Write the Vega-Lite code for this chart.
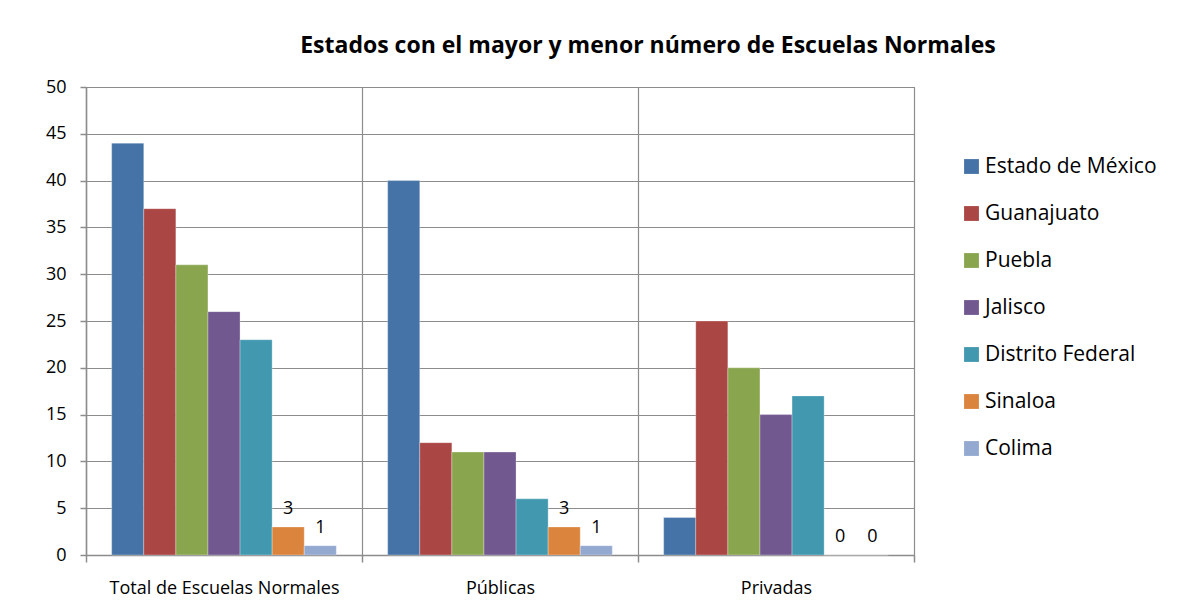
{
  "$schema": "https://vega.github.io/schema/vega-lite/v6.json",
  "width": 828,
  "height": 468,
  "autosize": {"type": "none"},
  "padding": {"left": 86, "top": 87, "right": 264, "bottom": 52},
  "background": "white",
  "title": {
    "text": "Estados con el mayor y menor número de Escuelas Normales",
    "font": "Open Sans",
    "fontSize": 23,
    "fontWeight": "bold",
    "color": "black",
    "anchor": "middle",
    "frame": "group",
    "dx": 148,
    "offset": 20
  },
  "config": {
    "view": {"stroke": "#8c8c8c", "strokeWidth": 1},
    "axis": {
      "labelFont": "Open Sans",
      "labelColor": "black",
      "domainColor": "#8c8c8c",
      "tickColor": "#8c8c8c",
      "gridColor": "#8c8c8c",
      "gridOpacity": 1,
      "domainWidth": 1.5,
      "tickWidth": 1.5,
      "gridWidth": 1.2
    }
  },
  "data": {
    "values": [
      {"categoria": "Total de Escuelas Normales", "estado": "Estado de México", "valor": 44},
      {"categoria": "Total de Escuelas Normales", "estado": "Guanajuato", "valor": 37},
      {"categoria": "Total de Escuelas Normales", "estado": "Puebla", "valor": 31},
      {"categoria": "Total de Escuelas Normales", "estado": "Jalisco", "valor": 26},
      {"categoria": "Total de Escuelas Normales", "estado": "Distrito Federal", "valor": 23},
      {"categoria": "Total de Escuelas Normales", "estado": "Sinaloa", "valor": 3},
      {"categoria": "Total de Escuelas Normales", "estado": "Colima", "valor": 1},
      {"categoria": "Públicas", "estado": "Estado de México", "valor": 40},
      {"categoria": "Públicas", "estado": "Guanajuato", "valor": 12},
      {"categoria": "Públicas", "estado": "Puebla", "valor": 11},
      {"categoria": "Públicas", "estado": "Jalisco", "valor": 11},
      {"categoria": "Públicas", "estado": "Distrito Federal", "valor": 6},
      {"categoria": "Públicas", "estado": "Sinaloa", "valor": 3},
      {"categoria": "Públicas", "estado": "Colima", "valor": 1},
      {"categoria": "Privadas", "estado": "Estado de México", "valor": 4},
      {"categoria": "Privadas", "estado": "Guanajuato", "valor": 25},
      {"categoria": "Privadas", "estado": "Puebla", "valor": 20},
      {"categoria": "Privadas", "estado": "Jalisco", "valor": 15},
      {"categoria": "Privadas", "estado": "Distrito Federal", "valor": 17},
      {"categoria": "Privadas", "estado": "Sinaloa", "valor": 0},
      {"categoria": "Privadas", "estado": "Colima", "valor": 0}
    ]
  },
  "encoding": {
    "x": {
      "field": "categoria",
      "type": "nominal",
      "sort": ["Total de Escuelas Normales", "Públicas", "Privadas"],
      "scale": {"paddingInner": 0, "paddingOuter": 0},
      "axis": {
        "title": null,
        "labelAngle": 0,
        "labelFontSize": 18,
        "labelLimit": 0,
        "labelPadding": 17,
        "tickBand": "extent",
        "tickSize": 7,
        "grid": true
      }
    },
    "xOffset": {
      "field": "estado",
      "type": "nominal",
      "sort": ["Estado de México", "Guanajuato", "Puebla", "Jalisco", "Distrito Federal", "Sinaloa", "Colima"],
      "scale": {"paddingInner": 0, "paddingOuter": 0.8}
    },
    "y": {
      "field": "valor",
      "type": "quantitative",
      "scale": {"domain": [0, 50], "nice": false},
      "axis": {
        "title": null,
        "values": [0, 5, 10, 15, 20, 25, 30, 35, 40, 45, 50],
        "labelFontSize": 18,
        "labelPadding": 14,
        "tickSize": 6,
        "grid": true
      }
    }
  },
  "layer": [
    {
      "mark": {"type": "bar", "stroke": "white", "strokeWidth": 0.6, "strokeOpacity": 0.5},
      "encoding": {
        "color": {
          "field": "estado",
          "type": "nominal",
          "sort": ["Estado de México", "Guanajuato", "Puebla", "Jalisco", "Distrito Federal", "Sinaloa", "Colima"],
          "scale": {
            "domain": ["Estado de México", "Guanajuato", "Puebla", "Jalisco", "Distrito Federal", "Sinaloa", "Colima"],
            "range": ["#4572A7", "#AA4643", "#89A54E", "#71588F", "#4198AF", "#DB843D", "#93A9CF"]
          },
          "legend": {
            "title": null,
            "orient": "none",
            "legendX": 875,
            "legendY": 69,
            "symbolType": "square",
            "symbolSize": 220,
            "symbolStrokeWidth": 0,
            "labelFont": "Open Sans",
            "labelFontSize": 21,
            "labelColor": "black",
            "labelOffset": 3,
            "rowPadding": 25,
            "labelLimit": 300
          }
        }
      }
    },
    {
      "transform": [{"filter": "datum.estado === 'Sinaloa' || datum.estado === 'Colima'"}],
      "mark": {"type": "text", "baseline": "bottom", "dy": -9, "font": "Open Sans", "fontSize": 18, "color": "black"},
      "encoding": {
        "text": {"field": "valor", "type": "quantitative"}
      }
    }
  ]
}
